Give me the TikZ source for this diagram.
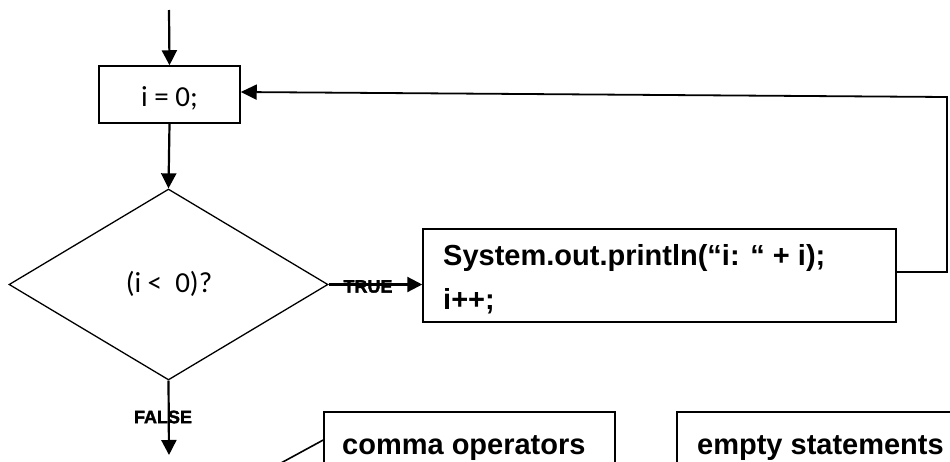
\documentclass[tikz,border=0pt]{standalone}
\usepackage{fontspec}
\newfontfamily\calfont{Carlito}
\newfontfamily\arifont{Liberation Sans}
\newfontfamily\heavyfont[BoldFeatures={FakeBold=2}]{Liberation Sans}
\usetikzlibrary{arrows.meta,shapes.geometric}
\begin{document}
\begin{tikzpicture}[x=1pt,y=-1pt,
  boxstyle/.style={draw,line width=1.5pt,inner sep=0pt,rectangle},
  flow/.style={line width=2.2pt,-{Triangle[length=15pt,width=15pt]}},
  loopline/.style={line width=1.8pt,-{Triangle[length=16pt,width=15pt]}},
  plainline/.style={line width=1.6pt},
  calt/.style={font=\calfont\fontsize{29}{34}\selectfont,inner sep=0pt},
  codet/.style={font=\arifont\bfseries\fontsize{29}{44}\selectfont,inner sep=0pt},
  smallt/.style={font=\heavyfont\bfseries\fontsize{18}{20}\selectfont,inner sep=0pt}
]
\useasboundingbox (0,0) rectangle (950,461);
\clip (0,0) rectangle (950,461);

% start
\coordinate (start) at (169,10);
\node[boxstyle,minimum width=141pt,minimum height=57pt] (iz) at (169.5,94.5) {};
\node[calt,anchor=base] (iztxt) at (169.5,106) {i = 0;};

\node[diamond,draw,line width=1.3pt,minimum width=319pt,minimum height=191pt,aspect=1.67,inner sep=0pt] (dia) at (168.5,284.5) {};
\node[calt,anchor=base] (diatxt) at (169,292.5) {(i <\ \ 0)?};

\node[boxstyle,minimum width=473pt,minimum height=93pt] (sys) at (659.5,275.5) {};
\node[codet,anchor=base west,align=left] (systxt) at (443,309) {System.out.println(“i: “ + i);\\i++;};

\node[boxstyle,minimum width=291pt,minimum height=80pt] (comma) at (469.5,452) {};
\node[codet,anchor=base west] (commatxt) at (342,454) {comma operators};

\node[boxstyle,minimum width=291pt,minimum height=80pt] (empty) at (822.5,452) {};
\node[codet,anchor=base west] (emptytxt) at (697,454) {empty statements};

\coordinate (falseend) at (169,455);
\coordinate (loopa) at (947,272);
\coordinate (loopb) at (947,97);
\coordinate (cst) at (281,463);

% connectors
\draw[flow] (start) -- (iz.north);
\draw[flow] (iz.south) -- (dia.north);
\draw[flow] (dia.east) -- (dia.east -| sys.west);
\draw[flow] (dia.south) -- (falseend);
\draw[loopline] ([yshift=3.5pt]sys.east) -- (loopa) -- (loopb) -- ([yshift=2.5pt]iz.east);
\draw[plainline] (cst) -- ([yshift=12pt]comma.west);

% labels
\node[smallt] (truelbl) at (368,286.5) {TRUE};
\node[smallt] (falselbl) at (163,417) {FALSE};
\end{tikzpicture}
\end{document}
